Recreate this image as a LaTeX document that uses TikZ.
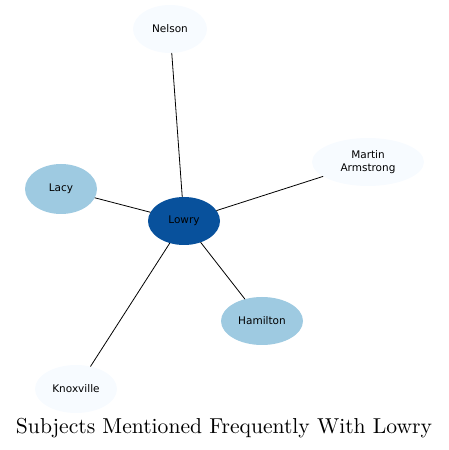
\documentclass[tikz,border=0pt]{standalone}
\usepackage{graphicx}
\usepackage{fontspec}
\newfontfamily\nodefont{DejaVu Sans}
\usepackage{tikz}
\usetikzlibrary{shapes.geometric}
\definecolor{hub}{HTML}{08519C}
\definecolor{mid}{HTML}{9ECAE1}
\definecolor{pale}{HTML}{F7FBFF}
\tikzset{
  every picture/.style={line join=round, line cap=round},
  subj/.style={ellipse, inner sep=0pt, minimum height=48pt, align=center,
    font=\nodefont\fontsize{10.5}{12.5}\selectfont},
  link/.style={line width=0.8pt},
}

\begin{document}
\begin{tikzpicture}[x=1pt,y=1pt]
\useasboundingbox (0,0) rectangle (449,450);
\node[subj, fill=hub, minimum width=72pt] (lowry) at (184,229) {Lowry};
\node[subj, fill=pale, minimum width=74pt] (nelson) at (170,421) {Nelson};
\node[subj, fill=pale, minimum width=112pt] (martin) at (368,288) {Martin\\Armstrong};
\node[subj, fill=mid, minimum width=72pt, minimum height=50pt] (lacy) at (61,261) {Lacy};
\node[subj, fill=mid, minimum width=82pt] (hamilton) at (262,129) {Hamilton};
\node[subj, fill=pale, minimum width=82pt] (knox) at (76,61) {Knoxville};
\draw[link] (lowry)--(nelson);
\draw[link] (lowry)--(martin);
\draw[link] (lowry)--(lacy);
\draw[link] (lowry)--(hamilton);
\draw[link] (lowry)--(knox);
\node[inner sep=0pt] (title) at (224,22) {\resizebox{416pt}{!}{Subjects Mentioned Frequently With Lowry}};
\end{tikzpicture}
\end{document}
